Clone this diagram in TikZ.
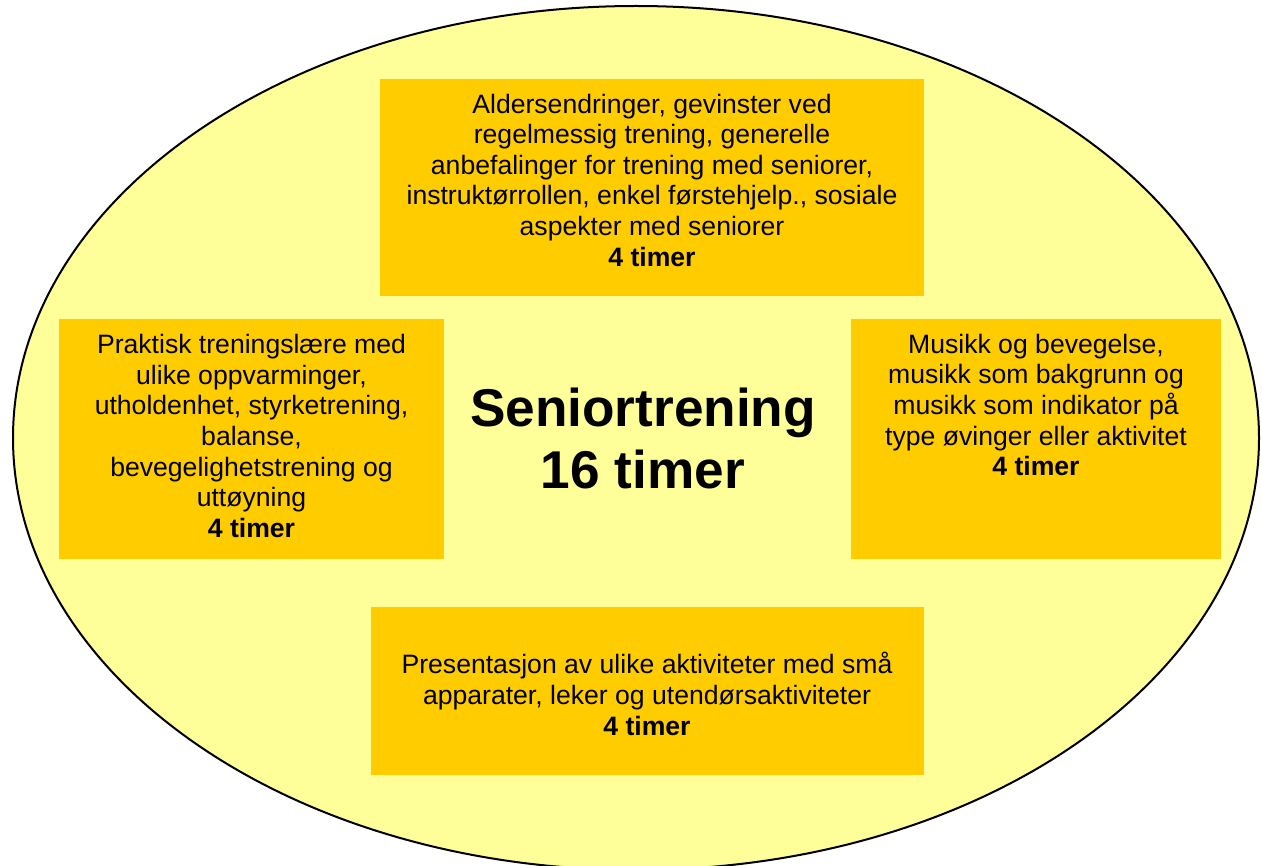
\documentclass[tikz,border=0pt]{standalone}
\usepackage{fontspec}
\setmainfont{Liberation Sans}
\usepackage{tikz}
\usetikzlibrary{positioning}
\definecolor{paleyellow}{HTML}{FFFF99}
\definecolor{gold}{HTML}{FFCC00}

\begin{document}
\begin{tikzpicture}[x=0.5pt, y=-0.5pt,
  panel/.style={fill=gold, inner sep=0pt},
  lbl/.style={align=center, inner sep=0pt, font=\fontsize{13.3}{15.3}\selectfont}]
  \clip (0,0) rectangle (1262,866);
  \fill[white] (0,0) rectangle (1262,866);
  % big ellipse
  \draw[fill=paleyellow, line width=1pt] (636,438) ellipse [x radius=311.5pt, y radius=216pt];
  % the four boxes
  \node[panel, minimum width=272pt, minimum height=108.5pt] (alder) at (652,187.5) {};
  \node[panel, minimum width=192.5pt, minimum height=120pt] (praksis) at (251.5,439) {};
  \node[panel, minimum width=185pt, minimum height=120pt] (musikk) at (1036,439) {};
  \node[panel, minimum width=276.5pt, minimum height=84pt] (apparat) at (647.5,691) {};
  % texts
  \node[lbl] (alderTxt) at (652,180) {Aldersendringer, gevinster ved\\ regelmessig trening, generelle\\ anbefalinger for trening med seniorer,\\ instruktørrollen, enkel førstehjelp., sosiale\\ aspekter med seniorer\\ \textbf{4 timer}};
  \node[lbl] (praksisTxt) at (251.5,436) {Praktisk treningslære med\\ ulike oppvarminger,\\ utholdenhet, styrketrening,\\ balanse,\\ bevegelighetstrening og\\ uttøyning\\ \textbf{4 timer}};
  \node[lbl] (musikkTxt) at (1036,405) {Musikk og bevegelse,\\ musikk som bakgrunn og\\ musikk som indikator på\\ type øvinger eller aktivitet\\ \textbf{4 timer}};
  \node[lbl] (apparatTxt) at (647,694) {Presentasjon av ulike aktiviteter med små\\ apparater, leker og utendørsaktiviteter\\ \textbf{4 timer}};
  % title in the middle
  \node[align=center, inner sep=0pt, font=\fontsize{26.6}{30.6}\selectfont\bfseries] (tittel) at (643,438.5) {Seniortrening\\ 16 timer};
\end{tikzpicture}
\end{document}
